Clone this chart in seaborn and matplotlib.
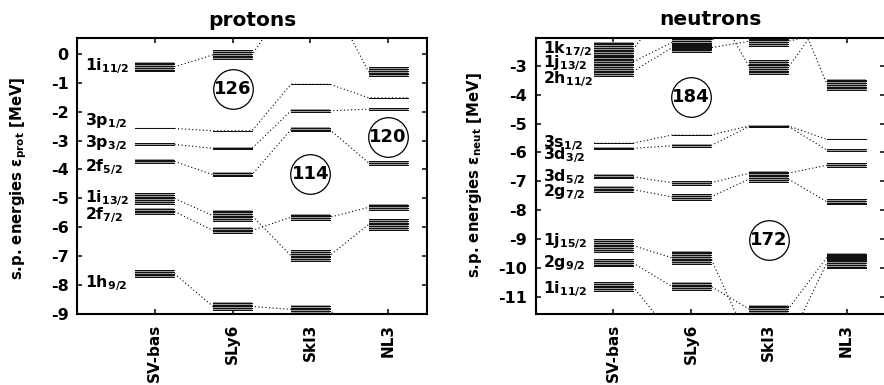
import numpy as np
import pandas as pd
import matplotlib
matplotlib.use("Agg")
import matplotlib.pyplot as plt
import seaborn as sns

# ---------------------------------------------------------------- data
models = ["SV-bas", "SLy6", "SkI3", "NL3"]

# protons: single-particle states and their 2j values
prot_states = ["1i$_{11/2}$", "3p$_{1/2}$", "3p$_{3/2}$", "2f$_{5/2}$",
               "1i$_{13/2}$", "2f$_{7/2}$", "1h$_{9/2}$"]
prot_twoj = [11, 1, 3, 5, 13, 7, 9]
# proton s.p. energies [MeV], one list per parametrisation
prot_svbas = [-0.45, -2.58, -3.13, -3.72, -5.00, -5.45, -7.60]
prot_sly6 = [-0.03, -2.66, -3.27, -4.18, -5.60, -6.11, -8.74]
prot_ski3 = [1.95, -1.05, -1.97, -2.62, -6.98, -5.65, -8.84]
prot_nl3 = [-0.62, -1.52, -1.91, -3.77, -5.90, -5.31, -10.50]
# shell gaps marked in circles
prot_magic = ["126", "114", "120"]
prot_magic_model = [2, 3, 4]
prot_magic_e = [-1.23, -4.14, -2.87]

# neutrons
neut_states = ["1k$_{17/2}$", "1j$_{13/2}$", "2h$_{11/2}$", "3s$_{1/2}$",
               "3d$_{3/2}$", "3d$_{5/2}$", "2g$_{7/2}$", "1j$_{15/2}$",
               "2g$_{9/2}$", "1i$_{11/2}$"]
neut_twoj = [17, 13, 11, 1, 3, 5, 7, 15, 9, 11]
neut_svbas = [-2.44, -2.87, -3.20, -5.68, -5.86, -6.84, -7.28, -9.22, -9.82, -10.64]
neut_sly6 = [-0.70, -2.20, -2.38, -5.40, -5.77, -7.05, -7.54, -9.64, -10.63, -12.30]
neut_ski3 = [-3.05, -0.40, -2.15, -5.08, -5.10, -6.72, -6.92, -12.60, -11.42, -12.60]
neut_nl3 = [-1.20, -3.66, -1.85, -5.55, -5.92, -6.44, -7.71, -9.80, -9.62, -12.20]
neut_magic = ["184", "172"]
neut_magic_model = [2, 3]
neut_magic_e = [-4.07, -9.02]

# vertical placement (baseline) of the state names at the left
prot_label_y = [-0.58, -2.47, -3.22, -4.05, -5.13, -5.73, -8.08]
neut_label_y = [-2.58, -3.06, -3.62, -5.83, -6.25, -7.00, -7.52, -9.22, -9.99, -10.89]

# ---------------------------------------------------------------- style
sns.set_style("ticks")
plt.rcParams["font.family"] = ["DejaVu Sans"]
plt.rcParams["font.weight"] = "bold"
plt.rcParams["axes.titleweight"] = "bold"
plt.rcParams["axes.labelweight"] = "bold"
plt.rcParams["mathtext.fontset"] = "dejavusans"
plt.rcParams["mathtext.default"] = "bf"
for key in ("text.color", "axes.labelcolor", "xtick.color", "ytick.color",
            "axes.edgecolor"):
    plt.rcParams[key] = "black"

HALF = 0.25      # half width of a level bar in x units
STEP = 0.06      # spacing of the sub-lines inside a bar [MeV]
EDGE = 0.018     # half a pixel of padding around a bar [MeV]


def draw_panel(ax, states, twoj, energies, label_y, magic, magic_model,
               magic_e, ylim, yticks, title):
    # dotted connectors: run along each bar and on to the next model
    rows = []
    for k, st in enumerate(states):
        for m, vals in enumerate(energies):
            for dx in (-HALF, HALF):
                rows.append({"state": st, "x": m + 1 + dx, "E": vals[k]})
    df = pd.DataFrame(rows)
    sns.lineplot(data=df, x="x", y="E", units="state", estimator=None,
                 sort=False, color="black", lw=0.8, linestyle=(0, (1, 2.2)),
                 ax=ax, legend=False, zorder=1)

    # level bars: a stack of thin lines, thickness grows with 2j+1
    for k in range(len(states)):
        n = (twoj[k] + 1) // 2
        offs = (np.arange(n) - (n - 1) / 2) * STEP
        half_span = (n - 1) / 2 * STEP
        for m, vals in enumerate(energies):
            x0, x1 = m + 1 - HALF, m + 1 + HALF
            if n > 1:
                ax.fill_between([x0, x1], vals[k] - half_span - EDGE,
                                vals[k] + half_span + EDGE, color="0.6",
                                lw=0, zorder=1.5)
            ax.hlines(vals[k] + offs, x0, x1, color="#111111", lw=0.45,
                      antialiased=False, zorder=2)

    # state names
    for st, y in zip(states, label_y):
        ax.text(0.1, y, st, fontsize=11.3, ha="left", va="baseline",
                zorder=3)

    # shell gaps
    for txt, m, e in zip(magic, magic_model, magic_e):
        ax.plot([m], [e], marker="o", ms=28.5, mfc="none", mec="black",
                mew=0.9, zorder=3)
        ax.text(m, e, txt, fontsize=13, ha="center", va="center", zorder=4)

    ax.set_xlim(0, 4.5)
    ax.set_ylim(*ylim)
    ax.set_xticks([1, 2, 3, 4])
    ax.set_xticklabels(models, rotation=90, fontsize=11)
    ax.set_yticks(yticks)
    ax.set_yticklabels([f"{t:d}" for t in yticks], fontsize=11.5)
    ax.set_xlabel("")
    ax.set_ylabel("")
    ax.tick_params(direction="in", top=True, right=True, length=3.6,
                   width=1.1, color="black")
    ax.tick_params(axis="y", pad=6)
    ax.tick_params(axis="x", pad=7)
    for sp in ax.spines.values():
        sp.set_visible(True)
        sp.set_linewidth(1.5)
        sp.set_color("black")
    ax.set_title(title, fontsize=14.5, pad=9)


fig = plt.figure(figsize=(8.84, 3.85), dpi=100)
ax_p = fig.add_axes([77 / 884, 71 / 385, 350 / 884, 276 / 385])
ax_n = fig.add_axes([535.7 / 884, 70.7 / 385, 349.7 / 884, 276.6 / 385])

draw_panel(ax_p, prot_states, prot_twoj,
           [prot_svbas, prot_sly6, prot_ski3, prot_nl3], prot_label_y,
           prot_magic, prot_magic_model, prot_magic_e,
           (-9.0, 0.55), list(range(0, -10, -1)), "protons")
draw_panel(ax_n, neut_states, neut_twoj,
           [neut_svbas, neut_sly6, neut_ski3, neut_nl3], neut_label_y,
           neut_magic, neut_magic_model, neut_magic_e,
           (-11.6, -2.03), list(range(-3, -12, -1)), "neutrons")

fig.text(19 / 884, 1 - 178 / 385,
         r"s.p. energies $\mathrm{\varepsilon}_{\mathbf{prot}}$ [MeV]",
         rotation=90, ha="center", va="center", fontsize=10.7)
fig.text(474 / 884, 1 - 175 / 385,
         r"s.p. energies $\mathrm{\varepsilon}_{\mathbf{neut}}$ [MeV]",
         rotation=90, ha="center", va="center", fontsize=10.7)

fig.savefig("out.png", dpi=100)
